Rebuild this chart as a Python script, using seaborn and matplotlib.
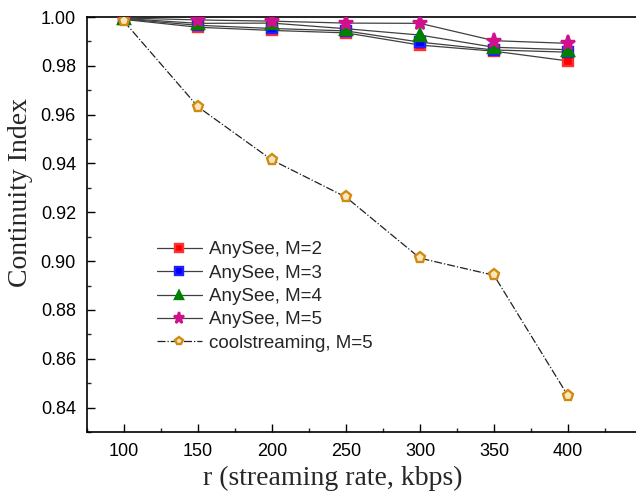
import matplotlib
matplotlib.use("Agg")
import matplotlib.pyplot as plt
from matplotlib.ticker import MultipleLocator, FormatStrFormatter
import numpy as np
import pandas as pd
import seaborn as sns

# streaming rates (kbps)
rates = [100, 150, 200, 250, 300, 350, 400]

# continuity index per scheme
anysee_m2 = [0.9990, 0.9958, 0.9945, 0.9935, 0.9885, 0.9860, 0.9820]
anysee_m3 = [0.9992, 0.9966, 0.9953, 0.9943, 0.9897, 0.9865, 0.9856]
anysee_m4 = [0.9994, 0.9974, 0.9975, 0.9952, 0.9926, 0.9876, 0.9866]
anysee_m5 = [0.9996, 0.9988, 0.9983, 0.9975, 0.9974, 0.9903, 0.9892]
cool_m5   = [0.9982, 0.9632, 0.9414, 0.9262, 0.9012, 0.8942, 0.8448]

series_names = ["AnySee, M=2", "AnySee, M=3", "AnySee, M=4", "AnySee, M=5",
                "coolstreaming, M=5"]

sns.set_theme(style="ticks")
plt.rcParams["font.family"] = ["Liberation Sans", "DejaVu Sans"]

frames = []
for name, vals in zip(series_names, [anysee_m2, anysee_m3, anysee_m4, anysee_m5, cool_m5]):
    frames.append(pd.DataFrame({"rate": rates, "ci": vals, "series": name}))
df = pd.concat(frames, ignore_index=True)

styles = {
    "AnySee, M=2": dict(marker="s", color="#404040", mfc="#ff0000", mec="#ff3030", ms=7, ls="-"),
    "AnySee, M=3": dict(marker="s", color="#404040", mfc="#0000ff", mec="#2020ff", ms=7, ls="-"),
    "AnySee, M=4": dict(marker="^", color="#404040", mfc="#008000", mec="#008000", ms=8, ls="-"),
    "AnySee, M=5": dict(marker="*", color="#404040", mfc="#d0108c", mec="#d0108c", ms=11, ls="-"),
    "coolstreaming, M=5": dict(marker="p", color="#202020", mfc="#fbe6bf", mec="#d08c10", ms=8, ls="-."),
}

fig = plt.figure(figsize=(6.36, 4.97), dpi=100)
ax = fig.add_axes([87 / 636, 65 / 497, 555 / 636, 415 / 497])

for name in series_names:
    st = styles[name]
    sub = df[df["series"] == name]
    sns.lineplot(data=sub, x="rate", y="ci", ax=ax, color=st["color"], lw=0.9,
                 linestyle=st["ls"], marker=st["marker"], markersize=st["ms"],
                 markerfacecolor=st["mfc"], markeredgecolor=st["mec"],
                 markeredgewidth=1.7, label=name, zorder=3)

ax.set_xlim(75, 450)
ax.set_ylim(0.83, 1.00)
ax.xaxis.set_minor_locator(MultipleLocator(25))
ax.yaxis.set_major_locator(MultipleLocator(0.02))
ax.yaxis.set_minor_locator(MultipleLocator(0.01))
ax.set_xticks([100, 150, 200, 250, 300, 350, 400])
ax.yaxis.set_major_formatter(FormatStrFormatter("%.2f"))
ax.tick_params(which="major", direction="in", length=6, width=1, labelsize=13,
               colors="black", pad=8)
ax.tick_params(which="minor", direction="in", length=3, width=1)
ax.tick_params(top=False, right=False, which="both")
for sp in ax.spines.values():
    sp.set_color("black")
    sp.set_linewidth(1.2)

ax.set_xlabel("r (streaming rate, kbps)", fontsize=20,
              family=["Liberation Serif", "DejaVu Serif"])
ax.set_ylabel("Continuity Index", fontsize=20,
              family=["Liberation Serif", "DejaVu Serif"])
ax.xaxis.set_label_coords(0.443, -0.082)
ax.yaxis.set_label_coords(-0.098, 0.576)

leg = ax.legend(loc="upper left", bbox_to_anchor=(0.095, 0.50), frameon=False,
                fontsize=13.5, handlelength=2.4, labelspacing=0.33, handletextpad=0.4,
                markerscale=0.75)

fig.savefig("out.png", dpi=100)
